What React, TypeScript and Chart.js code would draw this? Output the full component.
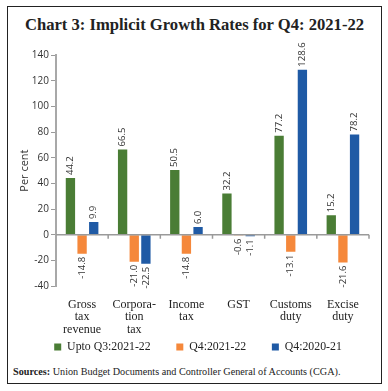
import React, { useEffect, useRef } from "react";
import { Chart, registerables } from "chart.js";

Chart.register(...registerables);

const categories: string[][] = [
  ["Gross", "tax", "revenue"],
  ["Corpora-", "tion", "tax"],
  ["Income", "tax"],
  ["GST"],
  ["Customs", "duty"],
  ["Excise", "duty"],
];
const seriesNames = ["Upto Q3:2021-22", "Q4:2021-22", "Q4:2020-21"];
const uptoQ3 = [44.2, 66.5, 50.5, 32.2, 77.2, 15.2];
const q4_2122 = [-14.8, -21.0, -14.8, -0.6, -13.1, -21.6];
const q4_2021 = [9.9, -22.5, 6.0, -1.1, 128.6, 78.2];
const colors = ["#4a7d35", "#f5883b", "#1f5aa5"];
const legendGap = "\u00A0\u00A0\u00A0\u00A0\u00A0\u00A0\u00A0";

const valueLabels = {
  id: "valueLabels",
  afterDatasetsDraw(chart: any) {
    const ctx = chart.ctx;
    ctx.save();
    ctx.font = "9.5px 'Open Sans'";
    ctx.fillStyle = "#333";
    ctx.textBaseline = "middle";
    chart.data.datasets.forEach((ds: any, i: number) => {
      const meta = chart.getDatasetMeta(i);
      meta.data.forEach((el: any, j: number) => {
        const v = ds.data[j];
        ctx.save();
        if (v >= 0) {
          ctx.translate(el.x, el.y - 3);
          ctx.rotate(-Math.PI / 2);
          ctx.textAlign = "left";
        } else {
          ctx.translate(el.x, el.y + 3);
          ctx.rotate(-Math.PI / 2);
          ctx.textAlign = "right";
        }
        ctx.fillText(v.toFixed(1), 0, 0);
        ctx.restore();
      });
    });
    ctx.restore();
  },
};

const zeroAxis = {
  id: "zeroAxis",
  afterDatasetsDraw(chart: any) {
    const ctx = chart.ctx;
    const x = chart.scales.x;
    const y = chart.scales.y;
    const y0 = y.getPixelForValue(0);
    ctx.save();
    ctx.strokeStyle = "#9a9a9a";
    ctx.lineWidth = 1.5;
    ctx.beginPath();
    ctx.moveTo(x.left, y0);
    ctx.lineTo(x.right, y0);
    const n = chart.data.labels.length;
    const w = (x.right - x.left) / n;
    for (let k = 1; k <= n; k++) {
      const px = x.getPixelForValue(k - 1) + w / 2;
      ctx.moveTo(px, y0);
      ctx.lineTo(px, y0 + 4);
    }
    ctx.stroke();
    ctx.restore();
  },
};

export default function App() {
  const ref = useRef<HTMLCanvasElement>(null);
  useEffect(() => {
    if (!ref.current) return;
    const data = [uptoQ3, q4_2122, q4_2021];
    const chart = new Chart(ref.current, {
      type: "bar",
      data: {
        labels: categories,
        datasets: data.map((d, i) => ({
          label: i < data.length - 1 ? seriesNames[i] + legendGap : seriesNames[i],
          data: d,
          backgroundColor: colors[i],
          categoryPercentage: 0.67,
          barPercentage: 0.8,
          yAxisID: "y",
        })),
      },
      options: {
        responsive: false,
        animation: false,
        layout: { padding: { top: 15, left: 0, right: 0, bottom: 0 } },
        plugins: {
          tooltip: { enabled: false },
          legend: {
            position: "bottom",
            labels: {
              boxWidth: 7,
              boxHeight: 7,
              padding: 5,
              color: "#222",
              font: { family: "'Liberation Serif'", size: 11.8 },
            },
          },
        },
        scales: {
          x: {
            grid: { display: false },
            border: { display: false },
            ticks: {
              color: "#222",
              padding: 4,
              font: { family: "'Liberation Serif'", size: 12, lineHeight: 1.04 },
              maxRotation: 0,
              autoSkip: false,
            },
            afterFit: (s: any) => {
              s.height = 50;
            },
          },
          y: {
            min: -40,
            max: 140,
            ticks: {
              stepSize: 20,
              color: "#333",
              padding: 2,
              font: { family: "'Open Sans'", size: 10 },
            },
            grid: { drawOnChartArea: false, tickLength: 5, color: "#9a9a9a" },
            border: { color: "#a8a8a8", width: 2 },
            title: {
              display: true,
              text: "Per cent",
              color: "#333",
              font: { family: "'Open Sans'", size: 11 },
              padding: { top: 10 },
            },
            afterFit: (s: any) => {
              s.width = 48;
            },
          },
          y2: {
            position: "right",
            display: true,
            min: -40,
            max: 140,
            ticks: { display: false },
            grid: { display: false },
            border: { display: false },
            afterFit: (s: any) => {
              s.width = 19;
            },
          },
        },
      },
      plugins: [valueLabels, zeroAxis],
    } as any);
    return () => chart.destroy();
  }, []);

  return (
    <div>
      <div
        style={{
          position: "absolute",
          left: 7,
          top: 6,
          width: 375,
          height: 378,
          boxSizing: "border-box",
          border: "1.5px solid #222",
        }}
      />
      <div
        style={{
          position: "absolute",
          left: 7,
          top: 15,
          width: 375,
          textAlign: "center",
          fontFamily: "'Liberation Serif', serif",
          fontWeight: "bold",
          fontSize: 16.6,
          lineHeight: "20px",
          color: "#222",
        }}
      >
        Chart 3: Implicit Growth Rates for Q4: 2021-22
      </div>
      <canvas
        ref={ref}
        width={380}
        height={323}
        style={{ position: "absolute", left: 8, top: 40 }}
      />
      <div
        style={{
          position: "absolute",
          left: 13,
          top: 365,
          fontFamily: "'Liberation Serif', serif",
          fontSize: 10.2,
          lineHeight: "14px",
          color: "#222",
          whiteSpace: "nowrap",
        }}
      >
        <b>Sources:</b> Union Budget Documents and Controller General of Accounts (CGA).
      </div>
    </div>
  );
}
